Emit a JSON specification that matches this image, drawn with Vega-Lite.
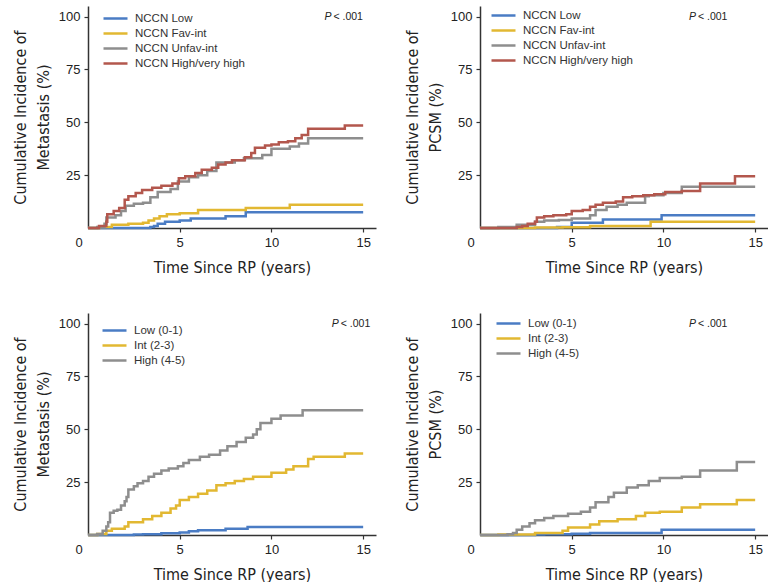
{
  "$schema": "https://vega.github.io/schema/vega-lite/v6.json",
  "background": "white",
  "padding": {"left": 12, "top": 6, "right": 0, "bottom": 0},
  "bounds": "flush",
  "columns": 2,
  "spacing": {"row": 85, "column": 104},
  "resolve": {"scale": {"color": "independent"}},
  "config": {
    "view": {"stroke": null},
    "font": "DejaVu Sans Condensed, sans-serif",
    "axis": {
      "grid": false, "domainColor": "#333", "domainWidth": 1.5, "tickColor": "#333", "tickWidth": 1.2, "tickSize": 4,
      "labelFont": "Liberation Sans, Arial, sans-serif", "labelFontSize": 13, "labelColor": "#222", "labelPadding": 4,
      "titleFont": "DejaVu Sans Condensed, sans-serif", "titleFontSize": 16, "titleFontWeight": "normal", "titleColor": "#222"
    },
    "axisY": {"titlePadding": 7, "titleLineHeight": 23},
    "axisX": {"titlePadding": 10},
    "legend": {
      "orient": "none", "symbolType": "M-2,0H2", "symbolSize": 144, "symbolStrokeWidth": 2.5,
      "labelFont": "Liberation Sans, Arial, sans-serif", "labelFontSize": 11.5, "labelColor": "#333", "rowPadding": 2, "labelOffset": 12, "padding": 0
    },
    "line": {"interpolate": "step-after", "strokeWidth": 2.5},
    "text": {"font": "Liberation Sans, Arial, sans-serif", "fontSize": 10.5, "color": "#222", "baseline": "middle"}
  },
  "datasets": {
    "tl": [
      {"g":"NCCN Low","t":0,"v":0},{"g":"NCCN Low","t":3.4,"v":0.5},{"g":"NCCN Low","t":3.6,"v":1},{"g":"NCCN Low","t":3.8,"v":2},{"g":"NCCN Low","t":4.2,"v":3},{"g":"NCCN Low","t":5.0,"v":3.5},{"g":"NCCN Low","t":5.6,"v":4.5},{"g":"NCCN Low","t":7.5,"v":5.5},{"g":"NCCN Low","t":8.6,"v":7.5},{"g":"NCCN Low","t":15,"v":7.5},
      {"g":"NCCN Fav-int","t":0,"v":0},{"g":"NCCN Fav-int","t":0.6,"v":0.5},{"g":"NCCN Fav-int","t":1.3,"v":1.5},{"g":"NCCN Fav-int","t":2.2,"v":2},{"g":"NCCN Fav-int","t":3.0,"v":2.5},{"g":"NCCN Fav-int","t":3.3,"v":3.5},{"g":"NCCN Fav-int","t":3.6,"v":4.5},{"g":"NCCN Fav-int","t":3.9,"v":5.5},{"g":"NCCN Fav-int","t":4.3,"v":6.5},{"g":"NCCN Fav-int","t":5.0,"v":7},{"g":"NCCN Fav-int","t":6.0,"v":8.5},{"g":"NCCN Fav-int","t":8.6,"v":9.5},{"g":"NCCN Fav-int","t":11.0,"v":11},{"g":"NCCN Fav-int","t":15,"v":11},
      {"g":"NCCN Unfav-int","t":0,"v":0},{"g":"NCCN Unfav-int","t":0.5,"v":0.5},{"g":"NCCN Unfav-int","t":0.9,"v":2},{"g":"NCCN Unfav-int","t":1.0,"v":5},{"g":"NCCN Unfav-int","t":1.5,"v":6},{"g":"NCCN Unfav-int","t":1.8,"v":8},{"g":"NCCN Unfav-int","t":2.05,"v":10.5},{"g":"NCCN Unfav-int","t":2.5,"v":11.5},{"g":"NCCN Unfav-int","t":3.0,"v":12},{"g":"NCCN Unfav-int","t":3.4,"v":14.5},{"g":"NCCN Unfav-int","t":3.8,"v":17},{"g":"NCCN Unfav-int","t":4.5,"v":18.5},{"g":"NCCN Unfav-int","t":4.9,"v":22},{"g":"NCCN Unfav-int","t":5.5,"v":24},{"g":"NCCN Unfav-int","t":6.0,"v":25},{"g":"NCCN Unfav-int","t":6.5,"v":27},{"g":"NCCN Unfav-int","t":7.0,"v":31},{"g":"NCCN Unfav-int","t":8.0,"v":32},{"g":"NCCN Unfav-int","t":8.5,"v":33},{"g":"NCCN Unfav-int","t":9.5,"v":34.5},{"g":"NCCN Unfav-int","t":10.0,"v":37.5},{"g":"NCCN Unfav-int","t":11.0,"v":38.5},{"g":"NCCN Unfav-int","t":11.5,"v":40},{"g":"NCCN Unfav-int","t":12.0,"v":42.5},{"g":"NCCN Unfav-int","t":15,"v":42.5},
      {"g":"NCCN High/very high","t":0,"v":0},{"g":"NCCN High/very high","t":0.6,"v":1},{"g":"NCCN High/very high","t":1.0,"v":3},{"g":"NCCN High/very high","t":1.05,"v":6.5},{"g":"NCCN High/very high","t":1.4,"v":8},{"g":"NCCN High/very high","t":1.7,"v":9.5},{"g":"NCCN High/very high","t":2.0,"v":13.4},{"g":"NCCN High/very high","t":2.2,"v":15},{"g":"NCCN High/very high","t":2.6,"v":16.5},{"g":"NCCN High/very high","t":2.95,"v":18},{"g":"NCCN High/very high","t":3.5,"v":19},{"g":"NCCN High/very high","t":4.0,"v":20},{"g":"NCCN High/very high","t":4.6,"v":21},{"g":"NCCN High/very high","t":4.95,"v":23.5},{"g":"NCCN High/very high","t":5.3,"v":24.5},{"g":"NCCN High/very high","t":5.85,"v":26},{"g":"NCCN High/very high","t":6.2,"v":27.5},{"g":"NCCN High/very high","t":6.75,"v":28.5},{"g":"NCCN High/very high","t":7.1,"v":30},{"g":"NCCN High/very high","t":7.5,"v":31},{"g":"NCCN High/very high","t":7.85,"v":32},{"g":"NCCN High/very high","t":8.55,"v":33.5},{"g":"NCCN High/very high","t":8.9,"v":35.5},{"g":"NCCN High/very high","t":9.1,"v":38},{"g":"NCCN High/very high","t":9.65,"v":39},{"g":"NCCN High/very high","t":10.0,"v":39.5},{"g":"NCCN High/very high","t":10.4,"v":40.5},{"g":"NCCN High/very high","t":10.9,"v":41},{"g":"NCCN High/very high","t":11.3,"v":42.5},{"g":"NCCN High/very high","t":11.65,"v":44},{"g":"NCCN High/very high","t":12.0,"v":47},{"g":"NCCN High/very high","t":14.0,"v":48.5},{"g":"NCCN High/very high","t":15,"v":48.5}
    ],
    "tr": [
      {"g":"NCCN Low","t":0,"v":0},{"g":"NCCN Low","t":4.2,"v":0.5},{"g":"NCCN Low","t":5.0,"v":2.5},{"g":"NCCN Low","t":6.7,"v":4},{"g":"NCCN Low","t":9.9,"v":6},{"g":"NCCN Low","t":15,"v":6},
      {"g":"NCCN Fav-int","t":0,"v":0},{"g":"NCCN Fav-int","t":3.0,"v":0.2},{"g":"NCCN Fav-int","t":4.5,"v":0.4},{"g":"NCCN Fav-int","t":6.0,"v":1},{"g":"NCCN Fav-int","t":9.3,"v":3},{"g":"NCCN Fav-int","t":15,"v":3},
      {"g":"NCCN Unfav-int","t":0,"v":0},{"g":"NCCN Unfav-int","t":1.0,"v":0.5},{"g":"NCCN Unfav-int","t":2.0,"v":1.5},{"g":"NCCN Unfav-int","t":3.0,"v":3},{"g":"NCCN Unfav-int","t":3.5,"v":3.5},{"g":"NCCN Unfav-int","t":4.3,"v":3.8},{"g":"NCCN Unfav-int","t":5.0,"v":4.5},{"g":"NCCN Unfav-int","t":6.0,"v":6},{"g":"NCCN Unfav-int","t":6.3,"v":8.5},{"g":"NCCN Unfav-int","t":6.9,"v":10},{"g":"NCCN Unfav-int","t":7.5,"v":11},{"g":"NCCN Unfav-int","t":8.0,"v":12},{"g":"NCCN Unfav-int","t":9.0,"v":15},{"g":"NCCN Unfav-int","t":9.2,"v":15.5},{"g":"NCCN Unfav-int","t":10.0,"v":16.5},{"g":"NCCN Unfav-int","t":11.0,"v":19.5},{"g":"NCCN Unfav-int","t":15,"v":19.5},
      {"g":"NCCN High/very high","t":0,"v":0},{"g":"NCCN High/very high","t":2.0,"v":0.5},{"g":"NCCN High/very high","t":2.3,"v":1},{"g":"NCCN High/very high","t":2.6,"v":2},{"g":"NCCN High/very high","t":3.0,"v":3},{"g":"NCCN High/very high","t":3.1,"v":5},{"g":"NCCN High/very high","t":3.5,"v":5.5},{"g":"NCCN High/very high","t":4.0,"v":6},{"g":"NCCN High/very high","t":4.7,"v":6.5},{"g":"NCCN High/very high","t":5.0,"v":8},{"g":"NCCN High/very high","t":5.6,"v":8.5},{"g":"NCCN High/very high","t":6.0,"v":10},{"g":"NCCN High/very high","t":6.3,"v":11},{"g":"NCCN High/very high","t":6.7,"v":12},{"g":"NCCN High/very high","t":7.4,"v":12.5},{"g":"NCCN High/very high","t":7.8,"v":14.5},{"g":"NCCN High/very high","t":8.3,"v":15},{"g":"NCCN High/very high","t":8.9,"v":15.5},{"g":"NCCN High/very high","t":9.5,"v":16},{"g":"NCCN High/very high","t":10.1,"v":17},{"g":"NCCN High/very high","t":11.0,"v":17.5},{"g":"NCCN High/very high","t":12.0,"v":21},{"g":"NCCN High/very high","t":13.9,"v":24.5},{"g":"NCCN High/very high","t":15,"v":24.5}
    ],
    "bl": [
      {"g":"Low (0-1)","t":0,"v":0},{"g":"Low (0-1)","t":2.5,"v":0.2},{"g":"Low (0-1)","t":3.0,"v":0.3},{"g":"Low (0-1)","t":4.0,"v":0.8},{"g":"Low (0-1)","t":5.0,"v":1.2},{"g":"Low (0-1)","t":5.5,"v":1.8},{"g":"Low (0-1)","t":6.0,"v":2.2},{"g":"Low (0-1)","t":7.5,"v":3},{"g":"Low (0-1)","t":8.7,"v":3.8},{"g":"Low (0-1)","t":15,"v":3.8},
      {"g":"Int (2-3)","t":0,"v":0},{"g":"Int (2-3)","t":0.5,"v":0.5},{"g":"Int (2-3)","t":1.0,"v":2},{"g":"Int (2-3)","t":1.3,"v":3},{"g":"Int (2-3)","t":2.0,"v":4},{"g":"Int (2-3)","t":2.2,"v":6},{"g":"Int (2-3)","t":3.0,"v":7.5},{"g":"Int (2-3)","t":3.5,"v":9},{"g":"Int (2-3)","t":4.0,"v":10.5},{"g":"Int (2-3)","t":4.5,"v":12.5},{"g":"Int (2-3)","t":4.8,"v":14},{"g":"Int (2-3)","t":5.0,"v":16.5},{"g":"Int (2-3)","t":5.5,"v":18},{"g":"Int (2-3)","t":6.0,"v":19.5},{"g":"Int (2-3)","t":6.5,"v":21},{"g":"Int (2-3)","t":7.0,"v":23.5},{"g":"Int (2-3)","t":7.5,"v":24.5},{"g":"Int (2-3)","t":8.0,"v":25.5},{"g":"Int (2-3)","t":8.5,"v":26.5},{"g":"Int (2-3)","t":9.0,"v":27.5},{"g":"Int (2-3)","t":10.0,"v":29.5},{"g":"Int (2-3)","t":10.8,"v":31},{"g":"Int (2-3)","t":11.2,"v":32.5},{"g":"Int (2-3)","t":12.0,"v":36},{"g":"Int (2-3)","t":12.3,"v":37},{"g":"Int (2-3)","t":14.0,"v":38.5},{"g":"Int (2-3)","t":15,"v":38.5},
      {"g":"High (4-5)","t":0,"v":0},{"g":"High (4-5)","t":0.5,"v":0.5},{"g":"High (4-5)","t":0.8,"v":2},{"g":"High (4-5)","t":1.0,"v":4},{"g":"High (4-5)","t":1.1,"v":6},{"g":"High (4-5)","t":1.2,"v":10.5},{"g":"High (4-5)","t":1.4,"v":11.5},{"g":"High (4-5)","t":1.6,"v":12},{"g":"High (4-5)","t":1.8,"v":14},{"g":"High (4-5)","t":2.0,"v":16},{"g":"High (4-5)","t":2.1,"v":18},{"g":"High (4-5)","t":2.2,"v":21.5},{"g":"High (4-5)","t":2.5,"v":23},{"g":"High (4-5)","t":2.7,"v":24.5},{"g":"High (4-5)","t":3.0,"v":25.5},{"g":"High (4-5)","t":3.3,"v":27.5},{"g":"High (4-5)","t":3.6,"v":29},{"g":"High (4-5)","t":4.0,"v":30.5},{"g":"High (4-5)","t":4.4,"v":31.5},{"g":"High (4-5)","t":4.9,"v":32.5},{"g":"High (4-5)","t":5.2,"v":34},{"g":"High (4-5)","t":5.5,"v":35.5},{"g":"High (4-5)","t":6.1,"v":37},{"g":"High (4-5)","t":6.6,"v":38},{"g":"High (4-5)","t":7.2,"v":40},{"g":"High (4-5)","t":7.6,"v":42},{"g":"High (4-5)","t":8.1,"v":44},{"g":"High (4-5)","t":8.6,"v":46},{"g":"High (4-5)","t":9.0,"v":47.5},{"g":"High (4-5)","t":9.2,"v":50},{"g":"High (4-5)","t":9.4,"v":53},{"g":"High (4-5)","t":10.0,"v":55},{"g":"High (4-5)","t":10.5,"v":56.5},{"g":"High (4-5)","t":11.7,"v":59},{"g":"High (4-5)","t":15,"v":59}
    ],
    "br": [
      {"g":"Low (0-1)","t":0,"v":0},{"g":"Low (0-1)","t":3.0,"v":0.2},{"g":"Low (0-1)","t":3.5,"v":0.3},{"g":"Low (0-1)","t":5.0,"v":0.6},{"g":"Low (0-1)","t":6.0,"v":1},{"g":"Low (0-1)","t":9.9,"v":2.5},{"g":"Low (0-1)","t":15,"v":2.5},
      {"g":"Int (2-3)","t":0,"v":0},{"g":"Int (2-3)","t":1.0,"v":0.2},{"g":"Int (2-3)","t":3.0,"v":1},{"g":"Int (2-3)","t":4.5,"v":2},{"g":"Int (2-3)","t":4.8,"v":3.5},{"g":"Int (2-3)","t":6.0,"v":5},{"g":"Int (2-3)","t":6.5,"v":6.5},{"g":"Int (2-3)","t":7.5,"v":7.5},{"g":"Int (2-3)","t":8.5,"v":9},{"g":"Int (2-3)","t":9.0,"v":10.5},{"g":"Int (2-3)","t":9.8,"v":11},{"g":"Int (2-3)","t":11.0,"v":13},{"g":"Int (2-3)","t":12.0,"v":14.5},{"g":"Int (2-3)","t":14.0,"v":16.5},{"g":"Int (2-3)","t":15,"v":16.5},
      {"g":"High (4-5)","t":0,"v":0},{"g":"High (4-5)","t":1.5,"v":0.3},{"g":"High (4-5)","t":1.8,"v":1},{"g":"High (4-5)","t":2.0,"v":2.5},{"g":"High (4-5)","t":2.3,"v":4},{"g":"High (4-5)","t":2.7,"v":5.5},{"g":"High (4-5)","t":3.0,"v":7},{"g":"High (4-5)","t":3.5,"v":8},{"g":"High (4-5)","t":4.0,"v":9},{"g":"High (4-5)","t":4.8,"v":10},{"g":"High (4-5)","t":5.5,"v":11},{"g":"High (4-5)","t":6.0,"v":13},{"g":"High (4-5)","t":6.3,"v":15.5},{"g":"High (4-5)","t":7.0,"v":18},{"g":"High (4-5)","t":7.3,"v":20},{"g":"High (4-5)","t":8.0,"v":22.5},{"g":"High (4-5)","t":8.6,"v":23.5},{"g":"High (4-5)","t":9.2,"v":25.5},{"g":"High (4-5)","t":9.8,"v":27},{"g":"High (4-5)","t":11.0,"v":27.5},{"g":"High (4-5)","t":12.0,"v":30.5},{"g":"High (4-5)","t":14.0,"v":34.5},{"g":"High (4-5)","t":15,"v":34.5}
    ]
  },
  "concat": [
    {
      "width": 288, "height": 222,
      "layer": [
        {"data": {"name": "tl"}, "mark": "line", "encoding": {
          "x": {"field": "t", "type": "quantitative", "scale": {"domain": [0, 15.7], "nice": false}, "axis": {"values": [0, 5, 10, 15], "title": "Time Since RP (years)", "labelOffset": {"condition": {"test": "datum.value === 0", "value": -13}, "value": 0}, "tickOpacity": {"condition": {"test": "datum.value === 0", "value": 0}, "value": 1}}},
          "y": {"field": "v", "type": "quantitative", "scale": {"domain": [0, 105], "nice": false}, "axis": {"values": [25, 50, 75, 100], "title": ["Cumulative Incidence of", "Metastasis (%)"]}},
          "color": {"field": "g", "type": "nominal", "scale": {"domain": ["NCCN Low", "NCCN Fav-int", "NCCN Unfav-int", "NCCN High/very high"], "range": ["#4a7cc4", "#e2b832", "#8e8e8e", "#b3574d"]}, "legend": {"title": null, "legendX": 20, "legendY": 5}}
        }},
        {"data": {"values": [{}]}, "mark": {"type": "text", "text": "P", "fontStyle": "italic", "align": "right", "dx": -0.5}, "encoding": {"x": {"datum": 13.3}, "y": {"datum": 100}}},
        {"data": {"values": [{}]}, "mark": {"type": "text", "text": "< .001", "align": "left", "dx": 1.5}, "encoding": {"x": {"datum": 13.3}, "y": {"datum": 100}}}
      ]
    },
    {
      "width": 288, "height": 222,
      "layer": [
        {"data": {"name": "tr"}, "mark": "line", "encoding": {
          "x": {"field": "t", "type": "quantitative", "scale": {"domain": [0, 15.7], "nice": false}, "axis": {"values": [0, 5, 10, 15], "title": "Time Since RP (years)", "labelOffset": {"condition": {"test": "datum.value === 0", "value": -13}, "value": 0}, "tickOpacity": {"condition": {"test": "datum.value === 0", "value": 0}, "value": 1}}},
          "y": {"field": "v", "type": "quantitative", "scale": {"domain": [0, 105], "nice": false}, "axis": {"values": [25, 50, 75, 100], "title": ["Cumulative Incidence of", "PCSM (%)"]}},
          "color": {"field": "g", "type": "nominal", "scale": {"domain": ["NCCN Low", "NCCN Fav-int", "NCCN Unfav-int", "NCCN High/very high"], "range": ["#4a7cc4", "#e2b832", "#8e8e8e", "#b3574d"]}, "legend": {"title": null, "legendX": 16, "legendY": 2}}
        }},
        {"data": {"values": [{}]}, "mark": {"type": "text", "text": "P", "fontStyle": "italic", "align": "right", "dx": -0.5}, "encoding": {"x": {"datum": 11.8}, "y": {"datum": 100}}},
        {"data": {"values": [{}]}, "mark": {"type": "text", "text": "< .001", "align": "left", "dx": 1.5}, "encoding": {"x": {"datum": 11.8}, "y": {"datum": 100}}}
      ]
    },
    {
      "width": 288, "height": 222,
      "layer": [
        {"data": {"name": "bl"}, "mark": "line", "encoding": {
          "x": {"field": "t", "type": "quantitative", "scale": {"domain": [0, 15.7], "nice": false}, "axis": {"values": [0, 5, 10, 15], "title": "Time Since RP (years)", "labelOffset": {"condition": {"test": "datum.value === 0", "value": -13}, "value": 0}, "tickOpacity": {"condition": {"test": "datum.value === 0", "value": 0}, "value": 1}}},
          "y": {"field": "v", "type": "quantitative", "scale": {"domain": [0, 105], "nice": false}, "axis": {"values": [25, 50, 75, 100], "title": ["Cumulative Incidence of", "Metastasis (%)"]}},
          "color": {"field": "g", "type": "nominal", "scale": {"domain": ["Low (0-1)", "Int (2-3)", "High (4-5)"], "range": ["#4a7cc4", "#e2b832", "#8e8e8e"]}, "legend": {"title": null, "legendX": 19, "legendY": 10}}
        }},
        {"data": {"values": [{}]}, "mark": {"type": "text", "text": "P", "fontStyle": "italic", "align": "right", "dx": -0.5}, "encoding": {"x": {"datum": 13.7}, "y": {"datum": 100}}},
        {"data": {"values": [{}]}, "mark": {"type": "text", "text": "< .001", "align": "left", "dx": 1.5}, "encoding": {"x": {"datum": 13.7}, "y": {"datum": 100}}}
      ]
    },
    {
      "width": 288, "height": 222,
      "layer": [
        {"data": {"name": "br"}, "mark": "line", "encoding": {
          "x": {"field": "t", "type": "quantitative", "scale": {"domain": [0, 15.7], "nice": false}, "axis": {"values": [0, 5, 10, 15], "title": "Time Since RP (years)", "labelOffset": {"condition": {"test": "datum.value === 0", "value": -13}, "value": 0}, "tickOpacity": {"condition": {"test": "datum.value === 0", "value": 0}, "value": 1}}},
          "y": {"field": "v", "type": "quantitative", "scale": {"domain": [0, 105], "nice": false}, "axis": {"values": [25, 50, 75, 100], "title": ["Cumulative Incidence of", "PCSM (%)"]}},
          "color": {"field": "g", "type": "nominal", "scale": {"domain": ["Low (0-1)", "Int (2-3)", "High (4-5)"], "range": ["#4a7cc4", "#e2b832", "#8e8e8e"]}, "legend": {"title": null, "legendX": 21, "legendY": 3}}
        }},
        {"data": {"values": [{}]}, "mark": {"type": "text", "text": "P", "fontStyle": "italic", "align": "right", "dx": -0.5}, "encoding": {"x": {"datum": 11.8}, "y": {"datum": 100}}},
        {"data": {"values": [{}]}, "mark": {"type": "text", "text": "< .001", "align": "left", "dx": 1.5}, "encoding": {"x": {"datum": 11.8}, "y": {"datum": 100}}}
      ]
    }
  ]
}
